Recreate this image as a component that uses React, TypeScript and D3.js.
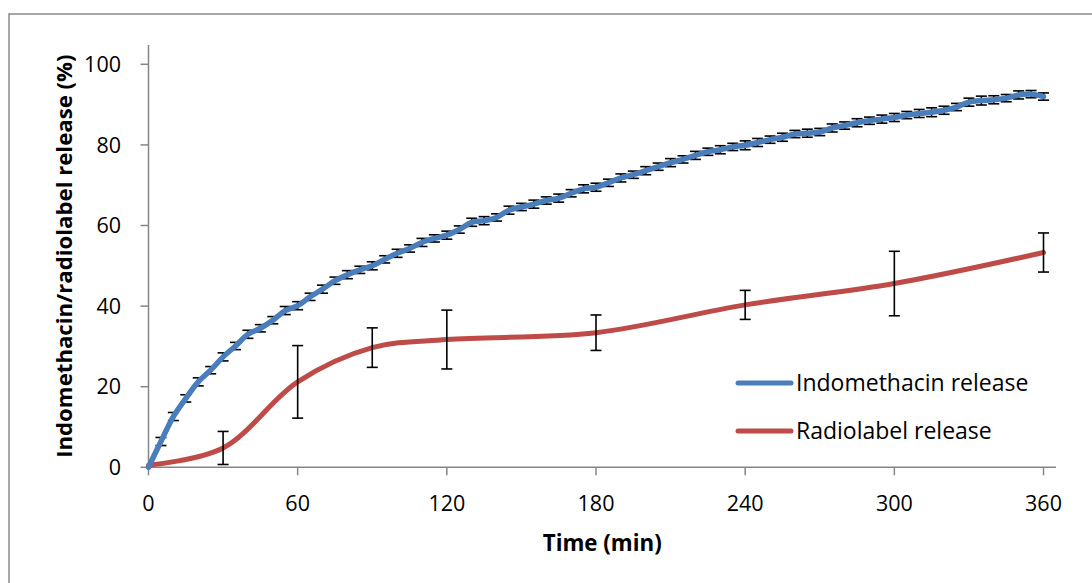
import React from "react";
import * as d3 from "d3";

const W = 1092;
const H = 583;

// Indomethacin release, sampled every 5 min (0..360)
const blueTimes: number[] = d3.range(0, 361, 5);
const blueValues: number[] = [
  0, 6.4, 12.6, 17.1, 21.2, 24.1, 27.4, 30.1, 33.0, 34.5,
  36.5, 38.9, 40.1, 42.3, 44.2, 46.3, 47.8, 49.0, 50.0, 51.6,
  53.1, 54.3, 55.8, 56.8, 57.6, 59.0, 60.8, 61.2, 62.0, 63.8,
  64.6, 65.3, 66.2, 66.8, 68.0, 69.1, 69.5, 70.6, 71.8, 72.6,
  73.6, 74.6, 75.6, 76.4, 77.4, 78.3, 78.8, 79.5, 79.9, 80.6,
  81.3, 81.9, 82.7, 82.9, 83.2, 84.2, 84.8, 85.5, 86.0, 86.4,
  86.8, 87.4, 87.8, 88.1, 88.6, 89.4, 90.6, 91.0, 91.2, 91.6,
  92.4, 92.6, 92.0,
];
const blueErrors: number[] = [
  0, 1.0, 1.0, 0.9, 1.0, 0.9, 1.0, 0.9, 1.0, 0.9,
  0.9, 1.0, 1.0, 0.9, 1.0, 0.9, 1.0, 0.9, 1.0, 0.9,
  1.0, 0.9, 1.0, 0.9, 1.0, 0.9, 1.0, 1.0, 0.9, 1.0,
  0.9, 1.0, 0.9, 1.0, 0.9, 1.0, 1.0, 0.9, 1.0, 0.9,
  1.0, 0.9, 1.0, 0.9, 1.0, 0.9, 1.0, 0.9, 1.1, 1.0,
  0.9, 1.0, 0.9, 1.0, 0.9, 1.0, 0.9, 1.0, 0.9, 1.0,
  1.0, 0.9, 1.0, 1.1, 1.0, 0.9, 1.0, 1.1, 1.0, 0.9,
  1.0, 0.9, 0.9,
];

// Radiolabel release
const redTimes: number[] = [0, 30, 60, 90, 120, 180, 240, 300, 360];
const redValues: number[] = [0.5, 4.8, 21.2, 29.7, 31.7, 33.4, 40.3, 45.6, 53.3];
const redErrors: number[] = [0, 4.1, 9.0, 4.9, 7.3, 4.4, 3.6, 8.0, 4.85];

const xTicks: number[] = [0, 60, 120, 180, 240, 300, 360];
const yTicks: number[] = [0, 20, 40, 60, 80, 100];

const seriesNames: string[] = ["Indomethacin release", "Radiolabel release"];
const xTitle = "Time (min)";
const yTitle = "Indomethacin/radiolabel release (%)";

const BLUE = "#4a7ebb";
const RED = "#be4b48";
const AXIS = "#868686";
const FONT = "'Open Sans', Lato, sans-serif";

export default function App() {
  const x = d3.scaleLinear().domain([0, 360]).range([148.5, 1043.5]);
  const y = d3.scaleLinear().domain([0, 100]).range([467.3, 64.3]);

  const line = d3
    .line<[number, number]>()
    .x((d) => x(d[0]))
    .y((d) => y(d[1]))
    .curve(d3.curveCatmullRom.alpha(0.5));

  const bluePts: [number, number][] = blueTimes.map((t, i) => [t, blueValues[i]]);
  const redPts: [number, number][] = redTimes.map((t, i) => [t, redValues[i]]);

  const plotTop = 45;
  const plotRight = 1056;
  const cap = 5.5;

  const errBars = (times: number[], vals: number[], errs: number[], key: string) =>
    times.map((t, i) => {
      if (!errs[i]) return null;
      const cx = x(t);
      const y1 = y(vals[i] + errs[i]);
      const y2 = y(vals[i] - errs[i]);
      return (
        <g key={key + i} stroke="#000" strokeWidth={1.6} fill="none">
          <line x1={cx} x2={cx} y1={y1} y2={y2} />
          <line x1={cx - cap} x2={cx + cap} y1={y1} y2={y1} />
          <line x1={cx - cap} x2={cx + cap} y1={y2} y2={y2} />
        </g>
      );
    });

  return (
    <svg
      width={W}
      height={H}
      style={{ position: "absolute", left: 0, top: 0, display: "block", background: "#fff" }}
    >
      <rect x={0} y={0} width={W} height={H} fill="#fff" />
      {/* chart border (clipped on right/bottom) */}
      <rect x={9} y={14} width={1200} height={700} fill="none" stroke="#8a8a8a" strokeWidth={1.5} />

      {/* axes */}
      <g stroke={AXIS} strokeWidth={1.5}>
        <line x1={x(0)} x2={x(0)} y1={plotTop} y2={y(0)} />
        <line x1={x(0)} x2={plotRight} y1={y(0)} y2={y(0)} />
        {yTicks.map((v) => (
          <line key={"yt" + v} x1={x(0) - 8} x2={x(0)} y1={y(v)} y2={y(v)} />
        ))}
        {xTicks.map((v) => (
          <line key={"xt" + v} x1={x(v)} x2={x(v)} y1={y(0)} y2={y(0) + 8} />
        ))}
      </g>

      {/* tick labels */}
      <g fontFamily={FONT} fontSize={21.5} fill="#000">
        {yTicks.map((v) => (
          <text key={"yl" + v} x={121} y={y(v)} dy="0.36em" textAnchor="end">
            {v}
          </text>
        ))}
        {xTicks.map((v) => (
          <text key={"xl" + v} x={x(v)} y={511} textAnchor="middle">
            {v}
          </text>
        ))}
      </g>

      {/* axis titles */}
      <text
        x={(x(0) + plotRight) / 2}
        y={551}
        textAnchor="middle"
        fontFamily={FONT}
        fontWeight="bold"
        fontSize={22.3}
      >
        {xTitle}
      </text>
      <text
        transform={`translate(72,${(plotTop + y(0)) / 2}) rotate(-90)`}
        textAnchor="middle"
        fontFamily={FONT}
        fontWeight="bold"
        fontSize={22.2}
      >
        {yTitle}
      </text>

      {/* series */}
      <path d={line(redPts) || ""} fill="none" stroke={RED} strokeWidth={5} strokeLinecap="round" />
      {errBars(redTimes, redValues, redErrors, "re")}
      {errBars(blueTimes, blueValues, blueErrors, "be")}
      <path d={line(bluePts) || ""} fill="none" stroke={BLUE} strokeWidth={5.5} strokeLinecap="round" />

      {/* legend */}
      <g fontFamily={FONT} fontSize={23}>
        <line x1={738} x2={791} y1={383} y2={383} stroke={BLUE} strokeWidth={5} strokeLinecap="round" />
        <text x={796} y={391}>{seriesNames[0]}</text>
        <line x1={738} x2={791} y1={431} y2={431} stroke={RED} strokeWidth={5} strokeLinecap="round" />
        <text x={796} y={439}>{seriesNames[1]}</text>
      </g>
    </svg>
  );
}
